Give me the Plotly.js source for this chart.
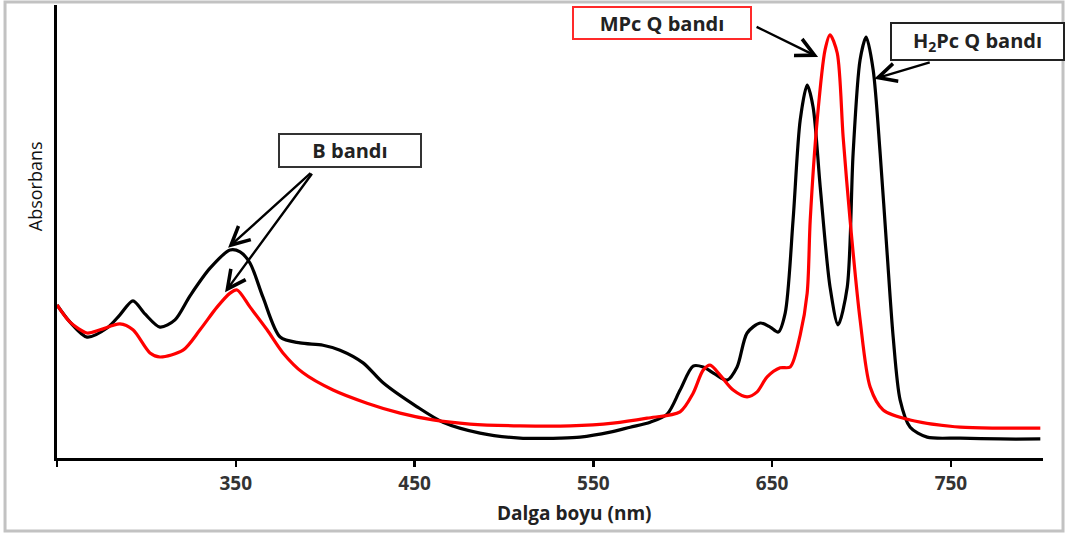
<!DOCTYPE html>
<html>
<head>
<meta charset="utf-8">
<script src="https://cdn.plot.ly/plotly-3.0.1.min.js"></script>
<style>html,body{margin:0;padding:0;background:#fff;}#chart{width:1070px;height:535px;}</style>
</head>
<body>
<div id="chart"></div>
<script>
// H2Pc (black) spectrum
var wavelength_h2pc = [250,257.3,266.8,278.0,285.2,292.5,299.2,307.6,316.0,324.4,335.6,346.8,352.4,358.0,365.2,374.8,385.9,398.8,408.3,421.2,432.4,451.4,465.9,486.6,509.0,531.4,542.6,559.4,570.6,581.8,591.3,598.5,605.8,611.4,618.1,624.8,630.4,636.0,643.3,648.9,653.4,657.3,661.7,665.7,669.6,672.9,676.9,682.4,686.9,692.0,695.3,699.2,702.6,706.5,710.4,714.3,717.7,721.6,727.2,736.7,755.2,777.5,800];
var abs_h2pc = [0.338,0.300,0.267,0.287,0.316,0.347,0.318,0.289,0.305,0.358,0.419,0.459,0.455,0.430,0.355,0.267,0.254,0.249,0.238,0.210,0.166,0.113,0.079,0.055,0.044,0.044,0.046,0.057,0.068,0.079,0.097,0.150,0.203,0.201,0.185,0.172,0.201,0.276,0.298,0.289,0.278,0.320,0.525,0.746,0.823,0.775,0.598,0.377,0.294,0.377,0.673,0.879,0.929,0.857,0.673,0.453,0.267,0.128,0.068,0.046,0.044,0.042,0.042];
// MPc (red) spectrum
var wavelength_mpc = [250,257.3,266.8,274.1,285.2,292.5,302.0,307.6,320.5,330.0,339.5,346.8,350.7,358.0,367.5,376.4,387.6,404.4,423.4,441.9,460.3,481.0,509.0,537.0,561.0,580.1,598.5,605.8,611.4,615.3,620.9,628.2,636.0,641.6,647.2,654.5,660.1,665.7,669.6,671.3,675.2,679.6,682.4,686.4,689.7,693.6,699.2,704.8,712.1,727.2,755.2,777.5,800];
var abs_mpc = [0.338,0.300,0.276,0.283,0.296,0.283,0.232,0.223,0.238,0.283,0.333,0.364,0.371,0.333,0.283,0.232,0.188,0.150,0.121,0.099,0.084,0.075,0.071,0.071,0.077,0.088,0.102,0.143,0.194,0.205,0.183,0.150,0.135,0.146,0.179,0.199,0.201,0.272,0.364,0.525,0.746,0.901,0.934,0.894,0.709,0.525,0.305,0.157,0.106,0.084,0.068,0.066,0.066];
// axis ticks
var tick_values = [350,450,550,650,750];
var tick_labels = ['350','450','550','650','750'];
var first_tick = [250];

var traces = [
  {x: wavelength_h2pc, y: abs_h2pc, mode:'lines', type:'scatter', name:'H2Pc',
   line:{color:'#000000', width:3.2, shape:'spline', smoothing:0.8}},
  {x: wavelength_mpc, y: abs_mpc, mode:'lines', type:'scatter', name:'MPc',
   line:{color:'#ff0000', width:3.2, shape:'spline', smoothing:0.8}}
];

var FAM = 'Open Sans, Lato, sans-serif';
var boxFont = {family:FAM, size:20, color:'#222'};
var arrowStyle = {text:'', showarrow:true, arrowhead:5, arrowsize:1.5, arrowwidth:2.4, arrowcolor:'#000', standoff:0};
function arrow(x, y, ax, ay){ return Object.assign({x:x, y:y, ax:ax, ay:ay}, arrowStyle); }

var layout = {
  width:1070, height:535,
  margin:{l:57, r:27, t:5, b:77},
  paper_bgcolor:'#ffffff', plot_bgcolor:'#ffffff',
  showlegend:false,
  xaxis:{range:[250,801.5], showline:true, linecolor:'#000', linewidth:3,
    ticks:'outside', ticklen:6, tickwidth:2.5, tickcolor:'#000',
    tickmode:'array', tickvals: tick_values, ticktext: tick_labels.map(function(t){return '<b>'+t+'</b>';}),
    minor:{tickmode:'array', tickvals:first_tick, ticks:'outside', ticklen:6, tickwidth:2.5, tickcolor:'#000', showgrid:false},
    tickfont:{family:FAM, size:19, color:'#333'},
    showgrid:false, zeroline:false, fixedrange:true},
  yaxis:{range:[0,1], showline:true, linecolor:'#000', linewidth:3,
    ticks:'', showticklabels:false, showgrid:false, zeroline:false, fixedrange:true},
  shapes:[
    {type:'rect', xref:'paper', yref:'paper', x0:-0.0527, x1:1.0203, y0:-0.1611, y1:1.0066,
     line:{color:'#c2c2c2', width:3}, fillcolor:'rgba(0,0,0,0)', layer:'below'}
  ],
  annotations:[
    {xref:'paper', yref:'paper', x:0.525, y:-0.1215, xanchor:'center', yanchor:'middle',
     text:'<b>Dalga boyu (nm)</b>', showarrow:false,
     font:{family:FAM, size:19, color:'#222'}},
    {xref:'paper', yref:'paper', x:-0.0223, y:0.600, xanchor:'center', yanchor:'middle',
     text:'Absorbans', showarrow:false, textangle:-90,
     font:{family:FAM, size:18, color:'#111'}},
    arrow(345.7, 0.464, 84, -76),
    arrow(344.0, 0.366, 88, -120),
    arrow(675.7, 0.885, -63, -31),
    arrow(707.1, 0.837, 57, -17),
    {xref:'paper', yref:'paper', x:0.2972, y:0.6788, xanchor:'center', yanchor:'middle',
     text:'<b>B bandı</b>', showarrow:false, width:140, height:31, bgcolor:'#fff',
     bordercolor:'#333', borderwidth:2, borderpad:0, font:boxFont},
    {xref:'paper', yref:'paper', x:0.6136, y:0.9603, xanchor:'center', yanchor:'middle',
     text:'<b>MPc Q bandı</b>', showarrow:false, width:176, height:30, bgcolor:'#fff',
     bordercolor:'#ff2a2a', borderwidth:2, borderpad:0, font:boxFont},
    {xref:'paper', yref:'paper', x:0.9336, y:0.9194, xanchor:'center', yanchor:'middle',
     text:'<b>H<sub>2</sub>Pc Q bandı</b>', showarrow:false, width:171, height:35, bgcolor:'#fff',
     bordercolor:'#222', borderwidth:2, borderpad:0, font:boxFont}
  ]
};

Plotly.newPlot('chart', traces, layout, {displayModeBar:false, staticPlot:true});
</script>
</body>
</html>
